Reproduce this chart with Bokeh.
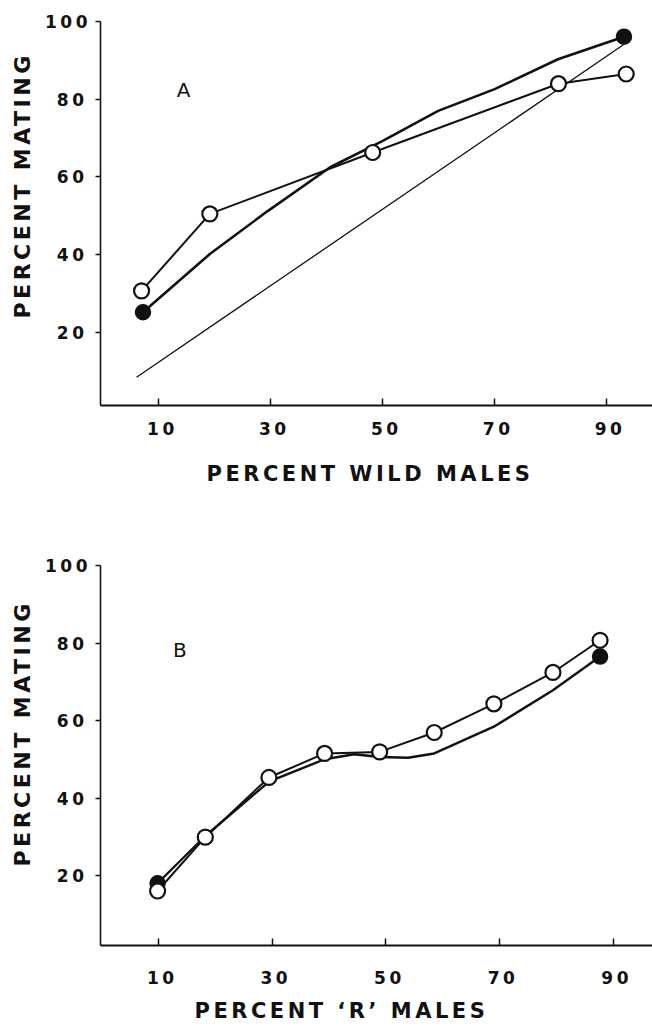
from bokeh.plotting import figure
from bokeh.layouts import column
from bokeh.models import Range1d, Label, FixedTicker, InlineStyleSheet, Title
from bokeh.embed import file_html
from bokeh.resources import INLINE

# ---------------- data ----------------
x_ticks = [10, 30, 50, 70, 90]
y_ticks = [20, 40, 60, 80, 100]

# Panel A
a_open_x = [6.9, 19.1, 48.2, 81.4, 93.5]
a_open_y = [30.7, 50.5, 66.3, 84.0, 86.5]
a_fill_x = [7.15, 93.1]
a_fill_y = [25.2, 96.1]
a_curve_x = [7.15, 19.1, 29.5, 40.6, 50.0, 59.9, 70.0, 81.3, 93.1]
a_curve_y = [25.2, 40.2, 51.3, 62.5, 69.3, 77.0, 82.6, 90.3, 96.1]
a_diag_x = [6.0, 93.0]
a_diag_y = [8.5, 94.0]

# Panel B
b_open_x = [9.8, 18.2, 29.4, 39.2, 48.9, 58.5, 69.0, 79.4, 87.7]
b_open_y = [16.0, 29.9, 45.3, 51.5, 51.9, 56.9, 64.3, 72.4, 80.7]
b_fill_x = [9.8, 87.7]
b_fill_y = [18.0, 76.5]
b_curve_x = [9.8, 18.2, 29.4, 39.2, 44.4, 48.9, 53.9, 58.5, 69.0, 79.4, 87.7]
b_curve_y = [18.0, 30.2, 44.2, 50.0, 51.3, 50.6, 50.4, 51.5, 58.4, 67.8, 76.5]

FONT = "DejaVu Sans"
INK = "#111111"


def make_panel(height, b_left, b_top, b_bottom, xr, yr, standoff_x):
    p = figure(width=652, height=height, x_range=Range1d(*xr), y_range=Range1d(*yr),
               output_backend="svg", toolbar_location=None,
               min_border_left=b_left, min_border_right=0,
               min_border_top=b_top, min_border_bottom=b_bottom)
    p.stylesheets = [InlineStyleSheet(css=":host { letter-spacing: 3.5px; }")]
    p.outline_line_color = None
    p.grid.visible = False
    p.background_fill_color = "white"
    p.border_fill_color = "white"

    xa = p.xaxis[0]
    xa.ticker = FixedTicker(ticks=x_ticks)
    xa.axis_line_width = 2
    xa.axis_line_color = INK
    xa.major_tick_in = 7
    xa.major_tick_out = 0
    xa.major_tick_line_width = 1.5
    xa.major_tick_line_color = INK
    xa.minor_tick_line_color = None
    xa.major_label_text_font = FONT
    xa.major_label_text_font_size = "17px"
    xa.major_label_text_font_style = "bold"
    xa.major_label_text_color = INK
    xa.major_label_standoff = standoff_x

    ya = p.yaxis[0]
    ya.ticker = FixedTicker(ticks=y_ticks)
    ya.axis_line_width = 1.6
    ya.axis_line_color = INK
    ya.major_tick_in = 0
    ya.major_tick_out = 5
    ya.major_tick_line_width = 1.5
    ya.major_tick_line_color = INK
    ya.minor_tick_line_color = None
    ya.major_label_text_font = FONT
    ya.major_label_text_font_size = "17px"
    ya.major_label_text_font_style = "bold"
    ya.major_label_text_color = INK
    ya.major_label_standoff = 15
    return p


def add_title(p, text, side, offset, standoff, size="21px"):
    p.add_layout(Title(text=text, align="left", offset=offset, standoff=standoff,
                       text_font=FONT, text_font_size=size, text_font_style="bold",
                       text_color=INK), side)


def add_letter(p, text, x, y):
    p.add_layout(Label(x=x, y=y, text=text, text_font=FONT, text_font_size="20px",
                       text_color=INK, text_align="left", text_baseline="alphabetic"))


# ---------------- panel A ----------------
pa = make_panel(520, 98, 21, 115, (-0.44, 98.2), (1.22, 100), 16)
pa.line(a_diag_x, a_diag_y, line_color=INK, line_width=1.3)
pa.line(a_curve_x, a_curve_y, line_color=INK, line_width=2.6)
pa.line(a_open_x, a_open_y, line_color=INK, line_width=2.0)
pa.scatter(a_fill_x, a_fill_y, size=15, fill_color=INK, line_color=INK, line_width=1.5)
pa.scatter(a_open_x, a_open_y, size=15, fill_color="white", line_color=INK, line_width=2.2)
add_letter(pa, "A", 13.2, 82.4)
add_title(pa, "PERCENT WILD MALES", "below", 106, 44)
add_title(pa, "PERCENT MATING", "left", 87, 15, "22px")

# ---------------- panel B ----------------
pb = make_panel(513, 100, 45, 88, (-0.25, 96.93), (1.94, 100), 25)
pb.line(b_curve_x, b_curve_y, line_color=INK, line_width=2.4)
pb.line(b_open_x, b_open_y, line_color=INK, line_width=2.0)
pb.scatter(b_fill_x, b_fill_y, size=15, fill_color=INK, line_color=INK, line_width=1.5)
pb.scatter(b_open_x, b_open_y, size=15, fill_color="white", line_color=INK, line_width=2.2)
add_letter(pb, "B", 12.5, 78.1)
add_title(pb, "PERCENT \u2018R\u2019 MALES", "below", 94, 20)
add_title(pb, "PERCENT MATING", "left", 79, 15, "22px")

layout = column(pa, pb, spacing=0)
open("out.html", "w").write(file_html(layout, INLINE))
